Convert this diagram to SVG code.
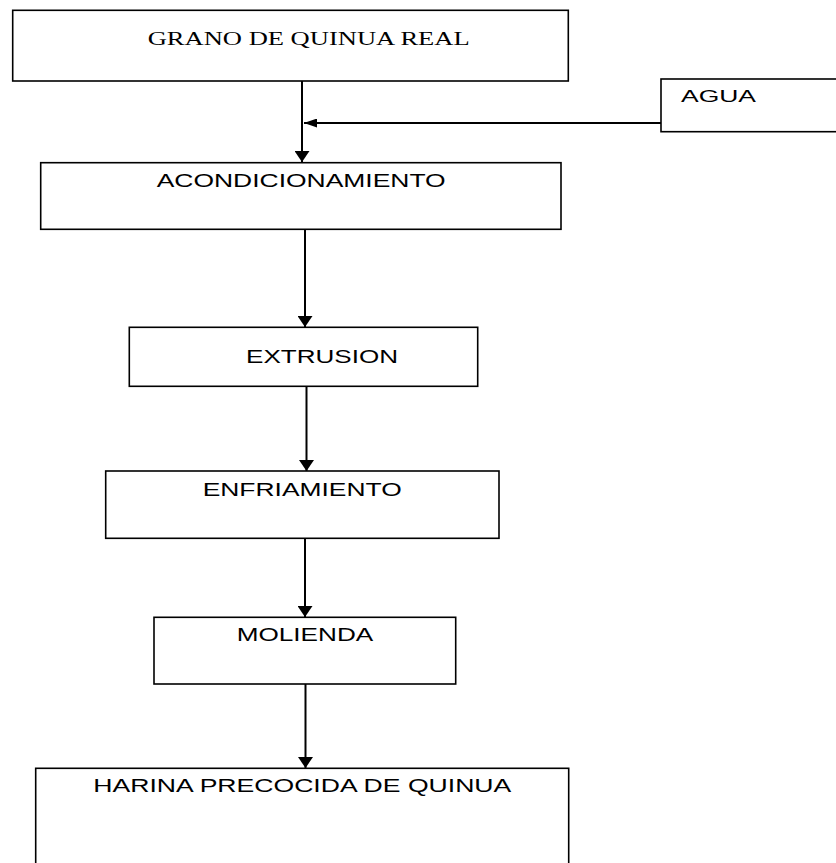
<svg xmlns="http://www.w3.org/2000/svg" width="836" height="863" viewBox="0 0 836 863">
  <style>
    .box { fill: #ffffff; stroke: #000000; stroke-width: 1.6; }
    .lbl { font-family: "Liberation Sans", Arial, sans-serif; font-size: 18.5px; fill: #000000; }
    .serif { font-family: "Liberation Serif", "Times New Roman", serif; font-size: 18px; fill: #000000; }
    .conn { stroke: #000000; stroke-width: 2; fill: none; }
  </style>
  <defs>
    <marker id="arrV" viewBox="0 0 11 15" refX="11" refY="7.5" markerWidth="11" markerHeight="15" markerUnits="userSpaceOnUse" orient="auto">
      <path d="M0,0 L11,7.5 L0,15 Z" fill="#000000"/>
    </marker>
    <marker id="arrH" viewBox="0 0 13 9" refX="13" refY="4.5" markerWidth="13" markerHeight="9" markerUnits="userSpaceOnUse" orient="auto">
      <path d="M0,0 L13,4.5 L0,9 Z" fill="#000000"/>
    </marker>
  </defs>

  <g id="connectors">
    <line class="conn" x1="302" y1="81" x2="302" y2="162" marker-end="url(#arrV)"/>
    <line class="conn" x1="661" y1="123" x2="304" y2="123" marker-end="url(#arrH)"/>
    <line class="conn" x1="305" y1="230" x2="305" y2="327" marker-end="url(#arrV)"/>
    <line class="conn" x1="306.5" y1="387" x2="306.5" y2="471" marker-end="url(#arrV)"/>
    <line class="conn" x1="305" y1="535" x2="305" y2="617" marker-end="url(#arrV)"/>
    <line class="conn" x1="305.5" y1="681" x2="305.5" y2="768" marker-end="url(#arrV)"/>
  </g>

  <g id="node-grano">
    <rect class="box" x="12.7" y="10.3" width="555.6" height="70.7"/>
    <text class="serif" x="147.7" y="45" textLength="322" lengthAdjust="spacingAndGlyphs">GRANO DE QUINUA REAL</text>
  </g>

  <g id="node-agua">
    <rect class="box" x="661" y="79" width="190" height="52.7"/>
    <text class="lbl" x="681" y="102.3" style="font-size:16.5px" textLength="75" lengthAdjust="spacingAndGlyphs">AGUA</text>
  </g>

  <g id="node-acondicionamiento">
    <rect class="box" x="40.7" y="162.7" width="520.3" height="66.6"/>
    <text class="lbl" x="156.7" y="186.7" textLength="289" lengthAdjust="spacingAndGlyphs">ACONDICIONAMIENTO</text>
  </g>

  <g id="node-extrusion">
    <rect class="box" x="129.3" y="327.3" width="348.4" height="59"/>
    <text class="lbl" x="246" y="362.7" textLength="152" lengthAdjust="spacingAndGlyphs">EXTRUSION</text>
  </g>

  <g id="node-enfriamiento">
    <rect class="box" x="105.7" y="471" width="393.3" height="67.3"/>
    <text class="lbl" x="202.7" y="496" textLength="199" lengthAdjust="spacingAndGlyphs">ENFRIAMIENTO</text>
  </g>

  <g id="node-molienda">
    <rect class="box" x="154" y="617.3" width="301.7" height="66.7"/>
    <text class="lbl" x="236.7" y="641.3" textLength="136.6" lengthAdjust="spacingAndGlyphs">MOLIENDA</text>
  </g>

  <g id="node-harina">
    <rect class="box" x="35.7" y="768.3" width="533" height="110"/>
    <text class="lbl" x="93.3" y="792.3" textLength="418" lengthAdjust="spacingAndGlyphs">HARINA PRECOCIDA DE QUINUA</text>
  </g>
</svg>
